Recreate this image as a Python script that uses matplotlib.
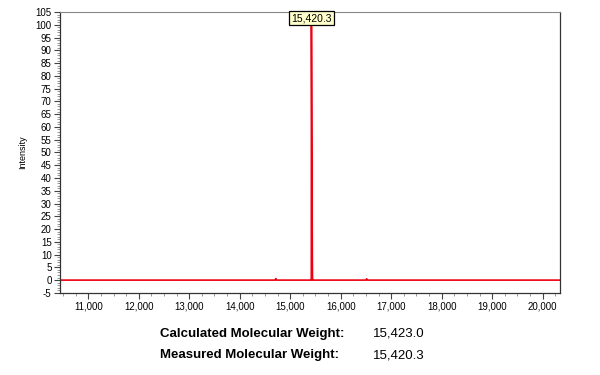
import matplotlib.pyplot as plt
from matplotlib.ticker import MultipleLocator, FuncFormatter

plt.rcParams['font.family'] = ['Liberation Sans', 'DejaVu Sans']
plt.rcParams['axes.unicode_minus'] = False

# deconvoluted spectrum
mass = [10440, 14700, 14715, 14730, 15405, 15418, 15420.3, 15425, 15438, 15442,
        15450, 16500, 16515, 16530, 20340]
intensity = [0, 0, 0.6, 0, 0, 0, 100, 78, 8, 0,
             0, 0, 0.5, 0, 0]

peak_mass = 15420.3
calc_mw = '15,423.0'
meas_mw = '15,420.3'

fig = plt.figure(figsize=(6, 3.75), dpi=100)
ax = fig.add_axes([0.1, 0.219, 0.833, 0.749])

ax.plot(mass, intensity, color='#ee0010', lw=1.2)

ax.set_xlim(10440, 20340)
ax.set_ylim(-5, 105)
ax.xaxis.set_major_locator(MultipleLocator(1000))
ax.xaxis.set_minor_locator(MultipleLocator(250))
ax.yaxis.set_major_locator(MultipleLocator(5))
ax.yaxis.set_minor_locator(MultipleLocator(1))
ax.xaxis.set_major_formatter(FuncFormatter(lambda v, p: f'{v:,.0f}'))
ax.tick_params(axis='both', which='major', labelsize=7, length=4, width=0.8,
               color='#444444', pad=2)
ax.tick_params(axis='both', which='minor', length=2, width=0.6, color='#888888')

for side in ['left', 'bottom', 'right']:
    ax.spines[side].set_color('#333333')
    ax.spines[side].set_linewidth(0.9)
ax.spines['top'].set_color('#888888')

ax.set_ylabel('Intensity', fontsize=6.5, labelpad=6)

ax.annotate('15,420.3', xy=(peak_mass, 105), xytext=(0, -1),
            textcoords='offset points', ha='center', va='top', fontsize=7.5,
            bbox=dict(boxstyle='square,pad=0.2', fc='#ffffcc', ec='black', lw=0.9))

fig.text(160 / 600, 1 - 334 / 375, 'Calculated Molecular Weight:', fontsize=9.5,
         fontweight='bold', va='center')
fig.text(373 / 600, 1 - 334 / 375, calc_mw, fontsize=9.5, va='center')
fig.text(160 / 600, 1 - 355 / 375, 'Measured Molecular Weight:', fontsize=9.5,
         fontweight='bold', va='center')
fig.text(373 / 600, 1 - 355 / 375, meas_mw, fontsize=9.5, va='center')

fig.savefig('out.png', dpi=100)
